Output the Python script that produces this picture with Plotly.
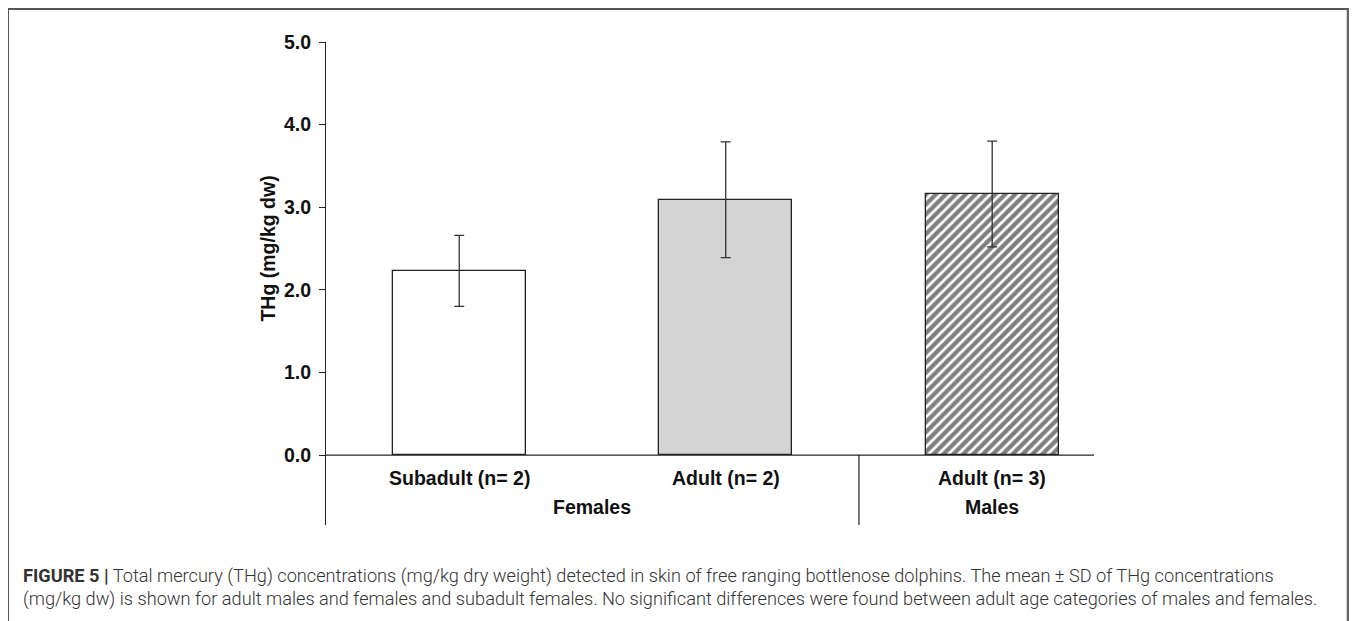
import plotly.graph_objects as go

# ---- data ----
categories = ["Subadult (n= 2)", "Adult (n= 2)", "Adult (n= 3)"]
groups = ["Females", "Males"]
group_pos = [0.5, 2.0]
means = [2.23, 3.09, 3.16]
sds = [0.43, 0.70, 0.64]
ytick_vals = [0, 1, 2, 3, 4, 5]
ytick_text = ["0.0", "1.0", "2.0", "3.0", "4.0", "5.0"]

OFF = 8  # page body margin
W, H = 1357 - OFF, 621 - OFF
# plot-area edges in page pixels
PL, PR, PT, PB = 326, 1094, 42, 525
L, R, T, B = PL - OFF, (1357 - PR), PT - OFF, (621 - PB)
PW, PH = PR - PL, PB - PT


def px(x):
    return (x - PL) / PW


def py(y):
    return (PB - y) / PH


xpos = list(range(len(categories)))
fills = ["white", "#d4d4d4", "white"]
patterns = ["", "", "/"]

fig = go.Figure()
for i in xpos:
    fig.add_trace(go.Bar(
        x=[xpos[i]], y=[means[i]], width=0.5,
        marker=dict(color=fills[i], line=dict(color="#222222", width=1.3),
                    pattern=dict(shape=patterns[i], fgcolor="black", bgcolor="white",
                                 size=7, solidity=0.62, fillmode="overlay")),
        error_y=dict(type="data", array=[sds[i]], visible=True, color="#333333",
                     thickness=1.3, width=5),
        showlegend=False, hoverinfo="skip",
    ))

font_b = dict(family="Liberation Sans, Arial", size=19.5, color="#111111")

fig.update_layout(
    width=W, height=H,
    margin=dict(l=L, r=R, t=T, b=B, pad=0),
    paper_bgcolor="white", plot_bgcolor="white",
    bargap=0,
    xaxis=dict(range=[-0.5, 2.382], visible=False, showgrid=False, zeroline=False),
    yaxis=dict(range=[-0.846, 5.0], tickvals=ytick_vals, ticktext=ytick_text,
               ticks="outside", ticklen=6, tickcolor="#222", tickwidth=1,
               ticklabelstandoff=4,
               showline=True, linecolor="#222", linewidth=1.2,
               showgrid=False, zeroline=False,
               tickfont=dict(family="Liberation Sans, Arial", size=19.5, color="#111",
                             weight="bold")),
    font=dict(family="Liberation Sans, Arial"),
)

shapes = [
    # baseline at y=0
    dict(type="line", xref="paper", yref="y", x0=0, x1=1, y0=0, y1=0,
         line=dict(color="#222", width=1.3)),
    # separator between female and male groups
    dict(type="line", xref="x", yref="paper", x0=1.5, x1=1.5, y0=0, y1=py(455),
         line=dict(color="#222", width=1.2)),
    # figure frame (top, left, right edges)
    dict(type="line", xref="paper", yref="paper", x0=px(8), x1=px(1349),
         y0=py(9), y1=py(9), line=dict(color="#555", width=2)),
    dict(type="line", xref="paper", yref="paper", x0=px(8), x1=px(8),
         y0=py(9), y1=py(640), line=dict(color="#555", width=2)),
    dict(type="line", xref="paper", yref="paper", x0=px(1348), x1=px(1348),
         y0=py(9), y1=py(640), line=dict(color="#666", width=2.5)),
]
fig.update_layout(shapes=shapes)

ann = []
for i, c in enumerate(categories):
    ann.append(dict(x=xpos[i], y=py(478), xref="x", yref="paper", text=f"<b>{c}</b>",
                    showarrow=False, xanchor="center", yanchor="middle", font=font_b))
for g, gp in zip(groups, group_pos):
    ann.append(dict(x=gp, y=py(507), xref="x", yref="paper", text=f"<b>{g}</b>",
                    showarrow=False, xanchor="center", yanchor="middle", font=font_b))
ann.append(dict(x=px(268), y=2.5, xref="paper", yref="y", text="<b>THg (mg/kg dw)</b>",
                textangle=-90, showarrow=False, xanchor="center", yanchor="middle",
                font=dict(family="Liberation Sans, Arial", size=19.5, color="#111")))

cap_font = dict(family="Roboto", size=18.2, color="#333333", weight=300)
line1 = ("<b>FIGURE 5 |</b> Total mercury (THg) concentrations (mg/kg dry weight) detected in skin "
         "of free ranging bottlenose dolphins. The mean ± SD of THg concentrations")
line2 = ("(mg/kg dw) is shown for adult males and females and subadult females. No significant "
         "differences were found between adult age categories of males and females.")
ann.append(dict(x=px(21), y=py(576), xref="paper", yref="paper", text=line1,
                showarrow=False, xanchor="left", yanchor="middle", font=cap_font))
ann.append(dict(x=px(21), y=py(599), xref="paper", yref="paper", text=line2,
                showarrow=False, xanchor="left", yanchor="middle", font=cap_font))
fig.update_layout(annotations=ann)

fig.write_html("out.html")
